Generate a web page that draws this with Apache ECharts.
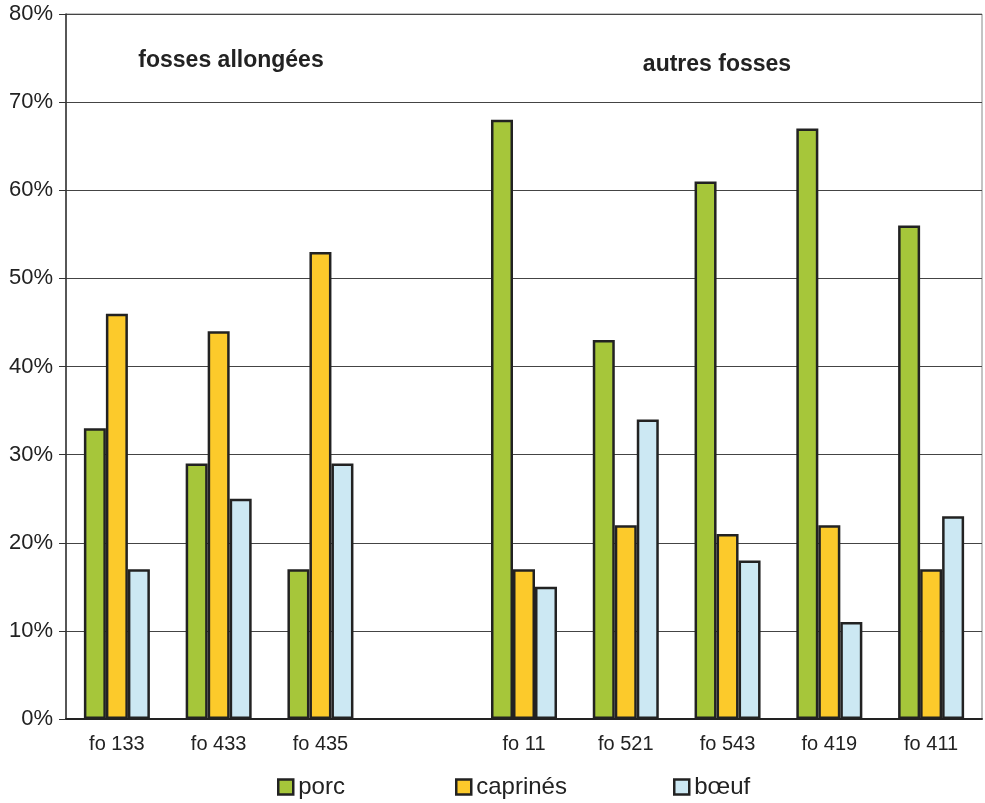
<!DOCTYPE html>
<html><head><meta charset="utf-8">
<script src="https://cdn.jsdelivr.net/npm/echarts@6/dist/echarts.min.js"></script>
<style>html,body{margin:0;padding:0;background:#fff}#c{width:985px;height:803px}</style>
</head><body><div id="c"></div>
<script>
const categories = ['fo 133','fo 433','fo 435','','fo 11','fo 521','fo 543','fo 419','fo 411'];
const porc =      [33, 29, 17, null, 68, 43, 61, 67, 56];
const caprines =  [46, 44, 53, null, 17, 22, 21, 22, 17];
const boeuf =     [17, 25, 29, null, 15, 34, 18, 11, 23];
const seriesNames = ['porc','caprinés','bœuf'];
const groupTitles = ['fosses allongées','autres fosses'];
const yTicks = {min:0, max:80, interval:10};

const colors = ['#a6c63a','#fcca2b','#cce8f3'];
const chart = echarts.init(document.getElementById('c'));
const font = 'Liberation Sans, Arial, sans-serif';
function bar(name, data, i){
  return {name, type:'bar', data, barWidth:22, barGap:'0%',
    itemStyle:{color:colors[i], borderColor:'#222', borderWidth:2.5}};
}
const legStyle = {itemWidth:15, itemHeight:15, icon:'rect',
  itemStyle:{borderColor:'#222', borderWidth:2.5},
  textStyle:{fontSize:24, color:'#222', fontFamily:font, padding:[0,0,0,0]}};
chart.setOption({
  animation:false,
  textStyle:{fontFamily:font},
  title:[
    {text:groupTitles[0], left:226, top:44, textAlign:'center', textStyle:{fontSize:23, fontWeight:'bold', color:'#222', fontFamily:font}},
    {text:groupTitles[1], left:712, top:48, textAlign:'center', textStyle:{fontSize:23, fontWeight:'bold', color:'#222', fontFamily:font}}
  ],
  grid:{left:66, top:14, right:3, bottom:84, show:true, borderColor:'#888', borderWidth:1},
  legend:[
    Object.assign({data:[seriesNames[0]], left:272, top:770}, legStyle),
    Object.assign({data:[seriesNames[1]], left:450, top:770}, legStyle),
    Object.assign({data:[seriesNames[2]], left:668, top:770}, legStyle)
  ],
  xAxis:{type:'category', data:categories, boundaryGap:true,
    axisLine:{lineStyle:{color:'#222', width:2}}, axisTick:{show:false},
    axisLabel:{fontSize:20, color:'#222', margin:15, fontFamily:font}},
  yAxis:{type:'value', min:yTicks.min, max:yTicks.max, interval:yTicks.interval,
    axisLine:{show:true, lineStyle:{color:'#333', width:1.5}},
    axisTick:{show:true, length:7, lineStyle:{color:'#333'}},
    axisLabel:{formatter:'{value}%', fontSize:22, color:'#222', margin:13, fontFamily:font, padding:[6,0,0,0]},
    splitLine:{lineStyle:{color:'#444', width:1}}},
  series:[bar(seriesNames[0],porc,0), bar(seriesNames[1],caprines,1), bar(seriesNames[2],boeuf,2)]
});
</script></body></html>
